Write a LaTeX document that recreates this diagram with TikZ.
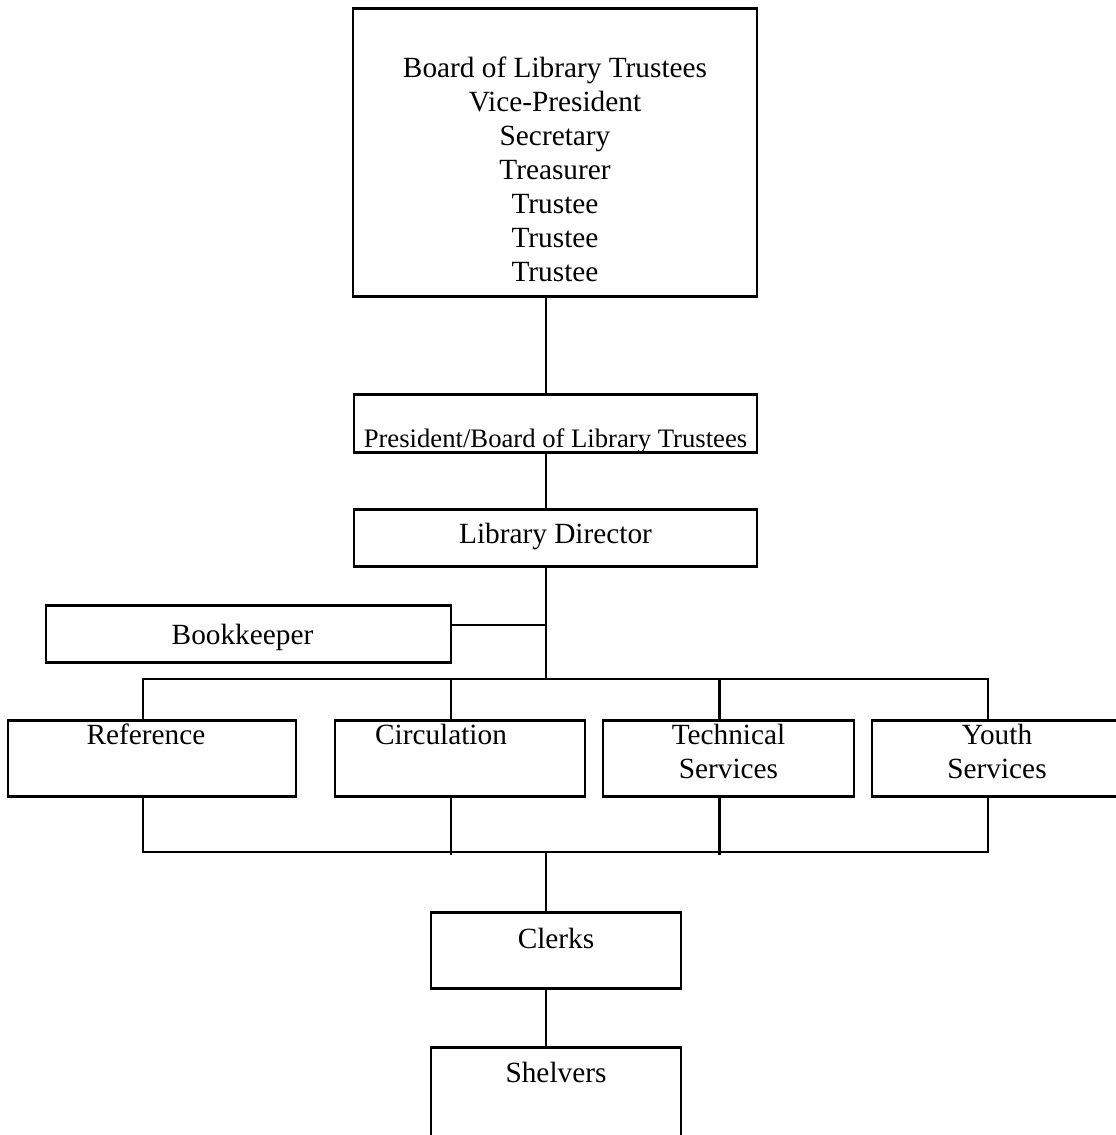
\documentclass[tikz,border=0pt]{standalone}
\usepackage{fontspec}
\setmainfont{Liberation Serif}

\tikzset{
	box/.style={draw, line width=2.7pt, inner sep=0pt, align=center, anchor=north,
		font=\fontsize{29.3}{34}\selectfont},
	dept/.style={box, minimum width=250pt, text height=24pt, text depth=52pt},
	link/.style={line width=2.7pt}
}

\begin{document}
\begin{tikzpicture}[x=1pt, y=-1pt]
		\useasboundingbox (0,0) rectangle (1116,1135);
		\coordinate (trunk) at (546,0);
		\coordinate (bus) at (546,679);
		\coordinate (sub) at (546,852);
		\node[box, minimum width=404pt, text height=273pt, text depth=15pt] (board) at (555,7)
			{Board of Library Trustees\\Vice-President\\Secretary\\Treasurer\\Trustee\\Trustee\\Trustee};
		\node[box, minimum width=403pt, text height=53pt, text depth=5pt,
			font=\fontsize{26.67}{30}\selectfont] (pres) at (555.5,393) {President/Board of Library Trustees};
		\node[box, minimum width=403pt, text height=34pt, text depth=23pt] (dir) at (555.5,508) {Library Director};
		\node[box, minimum width=405pt, text height=39pt, text depth=18pt] (bk) at (248.5,604) {Bookkeeper\hspace*{12pt}};
		\node[dept, minimum width=288pt] (ref) at (152,719) {Reference\hspace*{12pt}};
		\node[dept] (circ) at (460,719) {Circulation\hspace*{38pt}};
		\node[dept, minimum width=251pt, text height=58pt, text depth=18pt] (tech) at (728.5,719) {Technical\\Services};
		\node[dept, text height=58pt, text depth=18pt] (youth) at (997,719) {Youth\\Services};
		\node[box, minimum width=250pt, text height=36pt, text depth=40pt] (clerks) at (556,911) {Clerks};
		\node[box, minimum width=250pt, text height=35pt, text depth=64pt] (shelv) at (556,1046) {Shelvers};
		\draw[link] (board.south -| trunk) -- (pres.north -| trunk);
		\draw[link] (pres.south -| trunk) -- (dir.north -| trunk);
		\draw[link] (dir.south -| trunk) -- (bus);
		\draw[link] ([yshift=9pt]bk.east) -- ([yshift=9pt]bk.east -| trunk);
		\draw[link] ([xshift=-9pt]ref.north) |- (bus) -| ([xshift=-9pt]youth.north);
		\draw[link] ([xshift=-9pt]circ.north) -- ++(0,-40);
		\draw[link] ([xshift=-9pt]tech.north) -- ++(0,-40);
		\draw[link] ([xshift=-9pt]ref.south) |- (sub) -| ([xshift=-9pt]youth.south);
		\draw[link] ([xshift=-9pt]circ.south) -- ++(0,57);
		\draw[link] ([xshift=-9pt]tech.south) -- ++(0,57);
		\draw[link] (sub) -- (clerks.north -| trunk);
		\draw[link] (clerks.south -| trunk) -- (shelv.north -| trunk);
\end{tikzpicture}
\end{document}
